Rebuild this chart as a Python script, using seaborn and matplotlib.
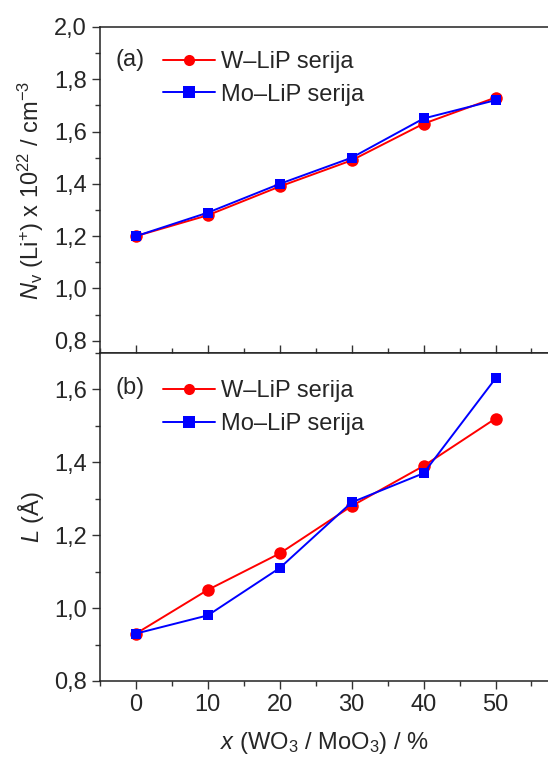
import numpy as np
import pandas as pd
import matplotlib
matplotlib.use("Agg")
import matplotlib.pyplot as plt
from matplotlib.ticker import MultipleLocator, FuncFormatter
import seaborn as sns

# ================================
# Data
# ================================
x_vals = [0, 10, 20, 30, 40, 50]
series = ["W–LiP serija", "Mo–LiP serija"]

nv_w  = [1.20, 1.28, 1.39, 1.49, 1.63, 1.73]
nv_mo = [1.20, 1.29, 1.40, 1.50, 1.65, 1.72]

l_w  = [0.93, 1.05, 1.15, 1.28, 1.39, 1.52]
l_mo = [0.93, 0.98, 1.11, 1.29, 1.37, 1.63]

df_nv = pd.DataFrame({"x": x_vals * 2, "y": nv_w + nv_mo,
                      "serija": [series[0]] * 6 + [series[1]] * 6})
df_l = pd.DataFrame({"x": x_vals * 2, "y": l_w + l_mo,
                     "serija": [series[0]] * 6 + [series[1]] * 6})

# ================================
# Style
# ================================
sns.set_style("ticks")
plt.rcParams['font.family'] = ['Liberation Sans', 'DejaVu Sans']
plt.rcParams['mathtext.fontset'] = 'custom'
plt.rcParams['mathtext.rm'] = 'Liberation Sans'
plt.rcParams['mathtext.it'] = 'Liberation Sans:italic'
plt.rcParams['mathtext.default'] = 'regular'

palette = {series[0]: "#ff0000", series[1]: "#0000ff"}
markers = {series[0]: "o", series[1]: "s"}
FS = 17

fig = plt.figure(figsize=(5.48, 7.6), dpi=100)
ax_top = fig.add_axes([0.1825, 0.5355, 0.8175, 0.429])
ax_bot = fig.add_axes([0.1825, 0.104, 0.8175, 0.4316])

comma = FuncFormatter(lambda v, p: f"{v:.1f}".replace(".", ","))

def draw(ax, df, tag, ylim, yticks, leg_y, tag_y):
    sns.lineplot(data=df, x="x", y="y", hue="serija", style="serija",
                 palette=palette, markers=markers, dashes=False,
                 markersize=8, markeredgewidth=0, linewidth=1.4,
                 ax=ax, legend=True)
    for ln, s in zip(ax.lines, series):
        ln.set_markersize(9 if s == series[0] else 7.5)
    handles, labels = ax.get_legend_handles_labels()
    for h in handles:
        h.set_markeredgewidth(0)
        h.set_linewidth(1.4)
    ax.legend(handles, labels, loc="upper left", bbox_to_anchor=(0.12, leg_y),
              frameon=False, fontsize=FS, handlelength=2.2, handletextpad=0.25,
              labelspacing=0.45, borderaxespad=0.0)
    ax.text(0.035, tag_y, tag, transform=ax.transAxes, fontsize=FS,
            ha="left", va="center")
    ax.set_xlim(-5, 57.3)
    ax.set_ylim(*ylim)
    ax.xaxis.set_major_locator(MultipleLocator(10))
    ax.xaxis.set_minor_locator(MultipleLocator(5))
    ax.yaxis.set_minor_locator(MultipleLocator(0.1))
    ax.set_yticks(yticks)
    ax.yaxis.set_major_formatter(comma)
    ax.tick_params(axis="both", which="major", direction="out", length=6,
                   width=1, labelsize=FS, color="#333333")
    ax.tick_params(axis="both", which="minor", direction="out", length=3.5,
                   width=1, color="#333333")
    ax.spines["right"].set_visible(False)
    for s in ["left", "bottom", "top"]:
        ax.spines[s].set_linewidth(1.1)
        ax.spines[s].set_color("#222222")

draw(ax_top, df_nv, "(a)", (0.753, 2.0), [0.8, 1.0, 1.2, 1.4, 1.6, 1.8, 2.0],
     0.955, 0.90)
draw(ax_bot, df_l, "(b)", (0.8, 1.70), [0.8, 1.0, 1.2, 1.4, 1.6],
     0.945, 0.893)

ax_top.tick_params(axis="x", labelbottom=False)
ax_top.set_xlabel("")
ax_top.set_ylabel(r"$\mathit{N}_{\mathrm{v}}$ (Li$^{+}$) x 10$^{22}$ / cm$^{-3}$",
                  fontsize=FS)
ax_top.yaxis.set_label_coords(-0.12, 0.5)

ax_bot.tick_params(axis="x", top=True, which="both")
ax_bot.set_xlabel(r"$\mathit{x}$ (WO$_3$ / MoO$_3$) / %", fontsize=FS, labelpad=10)
ax_bot.set_ylabel(r"$\mathit{L}$ (Å)", fontsize=FS)
ax_bot.yaxis.set_label_coords(-0.12, 0.5)

fig.savefig("out.png", dpi=100)
